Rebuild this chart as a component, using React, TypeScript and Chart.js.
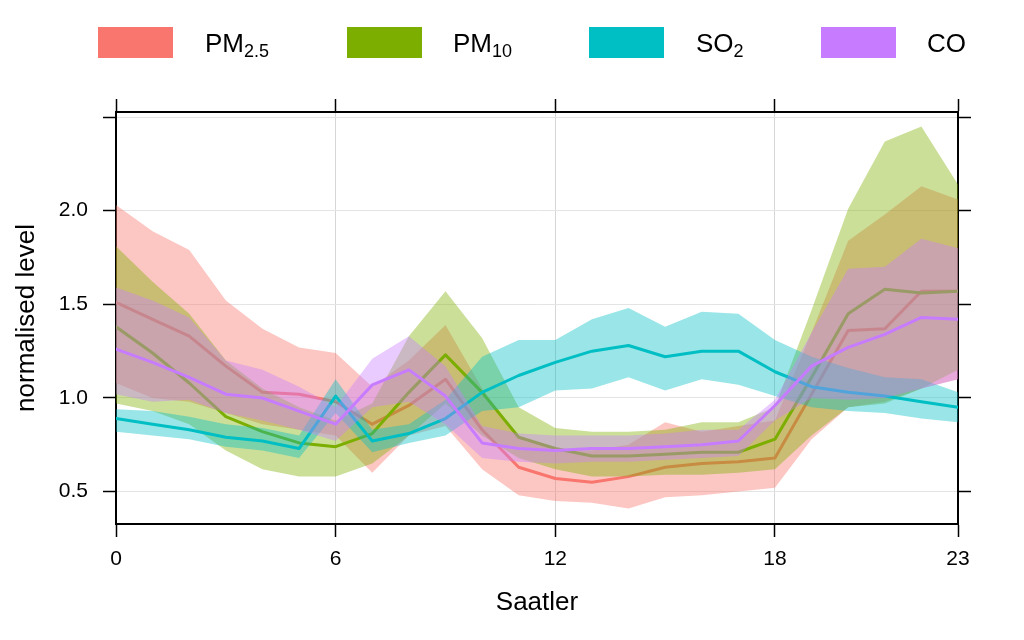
import React, { useEffect, useRef } from 'react';
import { Chart, registerables } from 'chart.js';

Chart.register(...registerables);

const FONT = '"Liberation Sans", Arial, Helvetica, sans-serif';

const hours = [0, 1, 2, 3, 4, 5, 6, 7, 8, 9, 10, 11, 12, 13, 14, 15, 16, 17, 18, 19, 20, 21, 22, 23];
const xTickValues = [0, 6, 12, 18, 23];
const xTickLabels = ['0', '6', '12', '18', '23'];
const yTickValues = [0.5, 1.0, 1.5, 2.0, 2.5];
const yTickLabels = ['0.5', '1.0', '1.5', '2.0', ''];

const seriesMain = ['PM', 'PM', 'SO', 'CO'];
const seriesSub = ['2.5', '10', '2', ''];
const seriesColors = ['#F8766D', '#7CAE00', '#00BFC4', '#C77CFF'];
const seriesFills = ['rgba(248,118,109,0.42)', 'rgba(124,174,0,0.4)', 'rgba(0,191,196,0.4)', 'rgba(199,124,255,0.4)'];

const pm25Mean = [1.51, 1.42, 1.33, 1.17, 1.03, 1.02, 0.98, 0.86, 0.96, 1.10, 0.83, 0.63, 0.57, 0.55, 0.58, 0.63, 0.65, 0.66, 0.68, 1.02, 1.36, 1.37, 1.57, 1.57];
const pm25Upper = [2.03, 1.89, 1.79, 1.52, 1.37, 1.27, 1.24, 1.06, 1.20, 1.39, 1.05, 0.79, 0.72, 0.72, 0.75, 0.87, 0.82, 0.85, 0.88, 1.35, 1.84, 1.98, 2.13, 2.06];
const pm25Lower = [1.08, 1.00, 0.98, 0.92, 0.86, 0.83, 0.80, 0.60, 0.80, 0.85, 0.62, 0.48, 0.45, 0.44, 0.41, 0.47, 0.48, 0.50, 0.52, 0.78, 0.95, 0.98, 1.05, 1.10];

const pm10Mean = [1.38, 1.24, 1.08, 0.90, 0.82, 0.76, 0.74, 0.81, 1.03, 1.23, 1.03, 0.79, 0.73, 0.69, 0.69, 0.70, 0.71, 0.71, 0.78, 1.11, 1.45, 1.58, 1.56, 1.57];
const pm10Upper = [1.81, 1.62, 1.45, 1.20, 1.05, 0.95, 0.88, 0.97, 1.33, 1.57, 1.32, 0.95, 0.84, 0.82, 0.82, 0.83, 0.87, 0.87, 0.95, 1.47, 2.01, 2.37, 2.45, 2.14];
const pm10Lower = [0.97, 0.93, 0.86, 0.72, 0.62, 0.58, 0.58, 0.65, 0.80, 0.97, 0.80, 0.68, 0.62, 0.58, 0.58, 0.59, 0.59, 0.60, 0.62, 0.80, 0.95, 0.97, 1.05, 1.15];

const so2Mean = [0.89, 0.86, 0.83, 0.79, 0.77, 0.73, 1.01, 0.77, 0.81, 0.89, 1.03, 1.12, 1.19, 1.25, 1.28, 1.22, 1.25, 1.25, 1.14, 1.06, 1.03, 1.01, 0.98, 0.95];
const so2Upper = [0.94, 0.93, 0.90, 0.86, 0.84, 0.80, 1.10, 0.83, 0.86, 0.99, 1.22, 1.31, 1.31, 1.42, 1.48, 1.38, 1.46, 1.45, 1.31, 1.22, 1.16, 1.11, 1.10, 1.03];
const so2Lower = [0.82, 0.80, 0.78, 0.74, 0.72, 0.68, 0.92, 0.71, 0.76, 0.80, 0.93, 0.95, 1.04, 1.05, 1.11, 1.04, 1.10, 1.07, 1.01, 0.95, 0.93, 0.92, 0.89, 0.87];

const coMean = [1.26, 1.19, 1.11, 1.02, 1.00, 0.93, 0.86, 1.07, 1.15, 1.01, 0.76, 0.73, 0.72, 0.73, 0.73, 0.74, 0.75, 0.77, 0.96, 1.17, 1.27, 1.34, 1.43, 1.42];
const coUpper = [1.59, 1.52, 1.43, 1.20, 1.15, 1.06, 0.95, 1.21, 1.33, 1.17, 0.85, 0.81, 0.80, 0.80, 0.80, 0.81, 0.83, 0.83, 0.99, 1.35, 1.69, 1.70, 1.85, 1.80];
const coLower = [1.02, 0.98, 0.99, 0.92, 0.88, 0.83, 0.77, 0.95, 0.98, 0.86, 0.68, 0.66, 0.65, 0.66, 0.66, 0.67, 0.68, 0.69, 0.88, 1.00, 0.99, 1.00, 1.05, 1.10];

const seriesMeans = [pm25Mean, pm10Mean, so2Mean, coMean];
const seriesUppers = [pm25Upper, pm10Upper, so2Upper, coUpper];
const seriesLowers = [pm25Lower, pm10Lower, so2Lower, coLower];

const Y_MIN = 0.327;
const Y_MAX = 2.527;

const legendPlugin = {
  id: 'subLegend',
  afterDraw(chart: any) {
    const ctx = chart.ctx;
    const rectX = [98, 347, 589, 821];
    const textX = [205, 453, 696, 927];
    ctx.save();
    for (let i = 0; i < seriesColors.length; i++) {
      ctx.fillStyle = seriesColors[i];
      ctx.fillRect(rectX[i], 27, 75, 31);
      ctx.fillStyle = '#000';
      ctx.textBaseline = 'alphabetic';
      ctx.textAlign = 'left';
      ctx.font = `26px ${FONT}`;
      ctx.fillText(seriesMain[i], textX[i], 52);
      const w = ctx.measureText(seriesMain[i]).width;
      if (seriesSub[i]) {
        ctx.font = `18px ${FONT}`;
        ctx.fillText(seriesSub[i], textX[i] + w, 57);
      }
    }
    ctx.restore();
  },
};

function buildDatasets() {
  const ds: any[] = [];
  let seq = 0;
  for (let i = 0; i < seriesMeans.length; i++) {
    ds.push({
      label: 'lower' + i,
      data: hours.map((h, k) => ({ x: h, y: seriesLowers[i][k] })),
      borderColor: 'rgba(0,0,0,0)',
      borderWidth: 0,
      pointRadius: 0,
      fill: false,
      order: 100 - seq++,
    });
    ds.push({
      label: 'upper' + i,
      data: hours.map((h, k) => ({ x: h, y: seriesUppers[i][k] })),
      borderColor: 'rgba(0,0,0,0)',
      borderWidth: 0,
      pointRadius: 0,
      backgroundColor: seriesFills[i],
      fill: '-1',
      order: 100 - seq++,
    });
    ds.push({
      label: 'mean' + i,
      data: hours.map((h, k) => ({ x: h, y: seriesMeans[i][k] })),
      borderColor: seriesColors[i],
      borderWidth: 3,
      borderJoinStyle: 'round',
      borderCapStyle: 'round',
      pointRadius: 0,
      fill: false,
      order: 100 - seq++,
    });
  }
  return ds;
}

export default function App() {
  const canvasRef = useRef<HTMLCanvasElement | null>(null);

  useEffect(() => {
    if (!canvasRef.current) return;
    Chart.defaults.font.family = FONT;
    const tickFont = { family: FONT, size: 21 };
    const chart = new Chart(canvasRef.current, {
      type: 'line',
      data: { datasets: buildDatasets() },
      plugins: [legendPlugin],
      options: {
        animation: false,
        responsive: true,
        maintainAspectRatio: false,
        layout: { padding: 0 },
        plugins: { legend: { display: false }, tooltip: { enabled: false } },
        elements: { line: { tension: 0 } },
        scales: {
          x: {
            type: 'linear',
            position: 'bottom',
            min: 0,
            max: 23,
            afterBuildTicks: (s: any) => { s.ticks = xTickValues.map((v) => ({ value: v })); },
            afterFit: (s: any) => { s.height = 116; },
            ticks: {
              callback: (_v: any, i: number) => xTickLabels[i],
              font: tickFont,
              color: '#000',
              padding: 10,
              maxRotation: 0,
              autoSkip: false,
            },
            grid: { color: '#d6d6d6', lineWidth: 1, tickColor: '#000', tickLength: 13, tickWidth: 1.5 },
            border: { display: true, color: '#000', width: 2 },
            title: { display: true, text: 'Saatler', color: '#000', font: { family: FONT, size: 26, lineHeight: 1 }, padding: { top: 0, bottom: 24 } },
          },
          x2: {
            type: 'linear',
            position: 'top',
            min: 0,
            max: 23,
            afterBuildTicks: (s: any) => { s.ticks = xTickValues.map((v) => ({ value: v })); },
            afterFit: (s: any) => { s.height = 112; },
            ticks: { display: false },
            grid: { drawOnChartArea: false, tickColor: '#000', tickLength: 13, tickWidth: 1.5 },
            border: { display: true, color: '#000', width: 2 },
          },
          y: {
            type: 'linear',
            position: 'left',
            min: Y_MIN,
            max: Y_MAX,
            afterBuildTicks: (s: any) => { s.ticks = yTickValues.map((v) => ({ value: v })); },
            afterFit: (s: any) => { s.width = 116; },
            ticks: {
              callback: (_v: any, i: number) => yTickLabels[i],
              font: tickFont,
              color: '#000',
              padding: 15,
            },
            grid: { color: '#e4e4e4', lineWidth: 1, tickColor: '#000', tickLength: 13, tickWidth: 1.5 },
            border: { display: true, color: '#000', width: 2 },
            title: { display: true, text: 'normalised level', color: '#000', font: { family: FONT, size: 26, lineHeight: 1 }, padding: { top: 14, bottom: 0 } },
          },
          y2: {
            type: 'linear',
            position: 'right',
            min: Y_MIN,
            max: Y_MAX,
            afterBuildTicks: (s: any) => { s.ticks = yTickValues.map((v) => ({ value: v })); },
            afterFit: (s: any) => { s.width = 66; },
            ticks: { display: false },
            grid: { drawOnChartArea: false, tickColor: '#000', tickLength: 13, tickWidth: 1.5 },
            border: { display: true, color: '#000', width: 2 },
          },
        },
      } as any,
    });
    return () => chart.destroy();
  }, []);

  return (
    <div style={{ position: 'absolute', left: 0, top: 0, width: 1024, height: 640, background: '#fff' }}>
      <canvas ref={canvasRef} style={{ display: 'block' }} />
    </div>
  );
}
